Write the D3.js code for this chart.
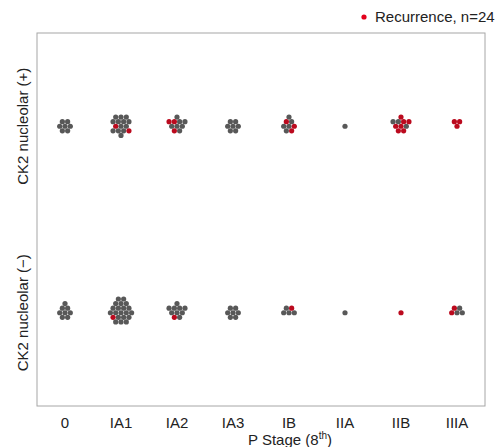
<!DOCTYPE html>
<html>
<head>
<meta charset="utf-8">
<style>
  body { margin: 0; background: #fff; }
  text { font-family: "Liberation Sans", Arial, sans-serif; fill: #222; }
</style>
</head>
<body>
<div id="chart"></div>

<script src="https://cdn.jsdelivr.net/npm/d3@7"></script>
<script>
// categories and counts
var stages = ["0", "IA1", "IA2", "IA3", "IB", "IIA", "IIB", "IIIA"]
var groups = ["CK2 nucleolar (+)", "CK2 nucleolar (\u2212)"]
// patients per stage, and how many of them recurred
var posTotal = [7, 15, 10, 7, 8, 1, 10, 3]
var posRecur = [0, 2, 3, 0, 3, 0, 7, 3]
var negTotal = [8, 21, 10, 7, 5, 1, 1, 5]
var negRecur = [0, 1, 1, 0, 1, 0, 1, 2]

var W = 504, H = 447
var margin = {top: 33, right: 19, bottom: 41, left: 37}
var width = W - margin.left - margin.right
var height = H - margin.top - margin.bottom

var grey = "#585858", red = "#bb0a1e"

var svg = d3.select("#chart").append("svg")
  .attr("width", W)
  .attr("height", H)

var g = svg.append("g")
  .attr("transform", "translate(" + margin.left + "," + margin.top + ")")

var x = d3.scaleBand().domain(stages).range([0, width])
var y = d3.scaleBand().domain(groups).range([0, height])

// frame
g.append("rect")
  .attr("width", width)
  .attr("height", height)
  .attr("fill", "none")
  .attr("stroke", "#a6a6a6")
  .attr("stroke-width", 1)

// x axis labels only
var xAxis = g.append("g")
  .attr("transform", "translate(0," + height + ")")
  .call(d3.axisBottom(x).tickSize(0).tickPadding(11))
xAxis.select(".domain").remove()
xAxis.selectAll("text")
  .style("font-size", "15px")
  .style("font-family", "Liberation Sans, Arial, sans-serif")
  .attr("fill", "#222")

// x title with superscript
var xt = svg.append("text")
  .attr("x", 290)
  .attr("y", H - 2)
  .attr("text-anchor", "middle")
  .style("font-size", "15px")
xt.append("tspan").text("P Stage (8")
xt.append("tspan").text("th").attr("dy", -6).style("font-size", "10px")
xt.append("tspan").text(")").attr("dy", 6)

// y labels
groups.forEach(function(gr) {
  svg.append("text")
    .attr("transform", "translate(28," + (margin.top + y(gr) + y.bandwidth() / 2) + ") rotate(-90)")
    .attr("text-anchor", "middle")
    .style("font-size", "15px")
    .text(gr)
})

// hex packed offsets, nearest to the centre first
var d = 5.3, dy = d * Math.sqrt(3) / 2
var hex = []
for (var j = -6; j <= 6; j++) {
  for (var i = -6; i <= 6; i++) {
    var ox = (i + (Math.abs(j) % 2 ? 0.5 : 0)) * d
    hex.push({dx: ox, dy: j * dy, r: Math.round(Math.hypot(ox, j * dy) * 100) / 100})
  }
}
hex.sort(function(a, b) { return (a.r - b.r) || (a.dy - b.dy) || (a.dx - b.dx) })

function buildDots(totals, recur, group) {
  var out = []
  stages.forEach(function(s, k) {
    var n = totals[k], m = recur[k]
    var redIdx = {}
    for (var q = 0; q < m; q++) redIdx[Math.floor((q + 0.5) * n / m)] = true
    for (var p = 0; p < n; p++) {
      out.push({stage: s, group: group, off: hex[p], recur: !!redIdx[p]})
    }
  })
  return out
}

var dots = buildDots(posTotal, posRecur, groups[0]).concat(buildDots(negTotal, negRecur, groups[1]))

g.selectAll("circle.dot")
  .data(dots)
  .enter()
  .append("circle")
  .attr("class", "dot")
  .attr("cx", function(p) { return x(p.stage) + x.bandwidth() / 2 + p.off.dx })
  .attr("cy", function(p) { return y(p.group) + y.bandwidth() / 2 + p.off.dy })
  .attr("r", 2.6)
  .attr("fill", function(p) { return p.recur ? red : grey })

// legend
svg.append("circle")
  .attr("cx", 364)
  .attr("cy", 17)
  .attr("r", 2.6)
  .attr("fill", "#e3001b")
svg.append("text")
  .attr("x", 375)
  .attr("y", 22)
  .style("font-size", "15px")
  .text("Recurrence, n=24")
</script>
</body>
</html>
